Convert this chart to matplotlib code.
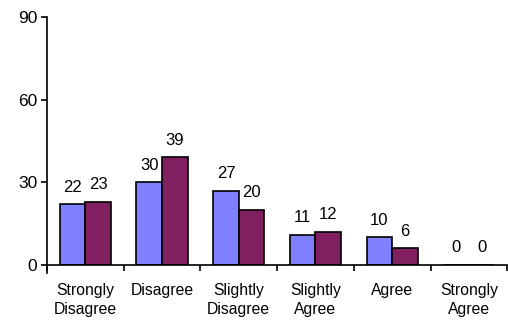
import matplotlib
matplotlib.use("Agg")
import matplotlib.pyplot as plt
import numpy as np

categories = ["Strongly\nDisagree", "Disagree", "Slightly\nDisagree",
              "Slightly\nAgree", "Agree", "Strongly\nAgree"]
series_a = [22, 30, 27, 11, 10, 0]
series_b = [23, 39, 20, 12, 6, 0]

plt.rcParams['font.family'] = ['Liberation Sans', 'DejaVu Sans']

fig = plt.figure(figsize=(5.08, 3.2), dpi=100)
ax = fig.add_axes([0.0925, 0.172, 0.906, 0.775])

x = np.arange(len(categories))
w = 1 / 3
bars_a = ax.bar(x - w / 2, series_a, w, color='#8080ff', edgecolor='black', linewidth=1.2)
bars_b = ax.bar(x + w / 2, series_b, w, color='#802060', edgecolor='black', linewidth=1.2)

for bars, vals in ((bars_a, series_a), (bars_b, series_b)):
    for b, v in zip(bars, vals):
        ax.annotate(str(v), (b.get_x() + b.get_width() / 2, v),
                    xytext=(0, 7), textcoords='offset points',
                    ha='center', va='bottom', fontsize=12)

ax.set_xlim(-0.5, len(categories) - 0.5)
ax.set_ylim(0, 90)
ax.set_yticks([0, 30, 60, 90])
ax.set_xticks(np.arange(len(categories) + 1) - 0.5)
ax.set_xticklabels([])
ax.set_xticks(x, minor=True)
ax.set_xticklabels(categories, minor=True, fontsize=11.3, linespacing=1.3)
ax.tick_params(axis='x', which='minor', length=0, pad=13)
ax.tick_params(axis='x', which='major', length=4, width=1.2, direction='out')
ax.tick_params(axis='y', length=4, width=1.2, labelsize=12.5, pad=3)
ax.spines['top'].set_visible(False)
ax.spines['right'].set_visible(False)
ax.spines['left'].set_bounds(-3, 90)
ax.spines['left'].set_linewidth(1.2)
ax.spines['bottom'].set_linewidth(1.2)

fig.savefig("out.png", dpi=100)
